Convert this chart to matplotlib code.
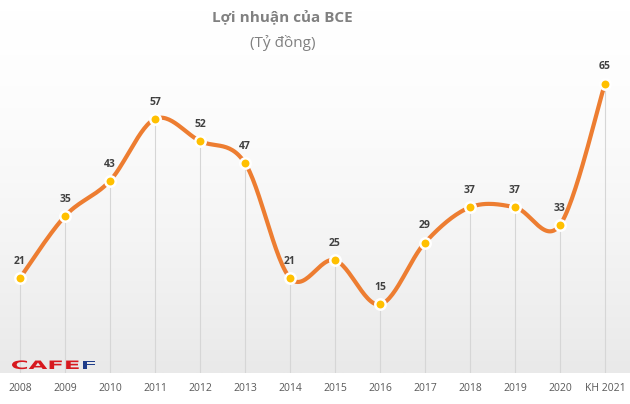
import numpy as np
import matplotlib
matplotlib.use('Agg')
import matplotlib.pyplot as plt
from matplotlib.textpath import TextPath
from matplotlib.patches import PathPatch
from matplotlib.font_manager import FontProperties
import matplotlib.transforms as mtransforms

years = ['2008', '2009', '2010', '2011', '2012', '2013', '2014',
         '2015', '2016', '2017', '2018', '2019', '2020', 'KH 2021']
profit = [21, 35, 43, 57, 52, 47, 21, 25, 15, 29, 37, 37, 33, 65]

title = 'Lợi nhuận của BCE'
subtitle = '(Tỷ đồng)'

plt.rcParams['font.family'] = ['Open Sans', 'DejaVu Sans']

W, H = 630, 404
fig = plt.figure(figsize=(W / 100, H / 100), dpi=100)
fig.patch.set_facecolor('white')

# plot area in pixels: index 0 at x=20, 45px per step; zero at y=370.7, 4.417px/unit
x0, dx = 20.0, 45.0
y_zero, dy = 370.7, 4.417
ax_bottom_px = 373
ax = fig.add_axes([0, (H - ax_bottom_px) / H, 1, ax_bottom_px / H])
xlim = (-x0 / dx, (W - x0) / dx)
ylim = ((y_zero - ax_bottom_px) / dy, y_zero / dy)
for s in ax.spines.values():
    s.set_visible(False)

# background gradient, white at top -> light grey at bottom
grad = (np.linspace(0, 1, 256) ** 1.6)[:, None]
cmap = matplotlib.colors.LinearSegmentedColormap.from_list('bg', ['#ffffff', '#e9e9e9'])
ax.imshow(grad, aspect='auto', cmap=cmap, extent=[xlim[0], xlim[1], ylim[0], ylim[1]],
          origin='upper', zorder=0)
ax.set_xlim(*xlim)
ax.set_ylim(*ylim)

xs = np.arange(len(profit))
ys = np.array(profit, dtype=float)

# drop lines
ax.vlines(xs, ylim[0], ys, color='#d6d6d6', lw=0.8, zorder=1)

# smoothed line (bezier through points, Excel-like)
pts = np.column_stack([xs, ys])
curve = []
t = np.linspace(0, 1, 30)
for i in range(len(pts) - 1):
    p0 = pts[i - 1] if i > 0 else pts[i]
    p1 = pts[i]
    p2 = pts[i + 1]
    p3 = pts[i + 2] if i + 2 < len(pts) else pts[i + 1]
    c1 = p1 + (p2 - p0) / 6
    c2 = p2 - (p3 - p1) / 6
    seg = ((1 - t) ** 3)[:, None] * p1 + (3 * (1 - t) ** 2 * t)[:, None] * c1 \
        + (3 * (1 - t) * t ** 2)[:, None] * c2 + (t ** 3)[:, None] * p2
    curve.append(seg)
curve = np.vstack(curve)
ax.plot(curve[:, 0], curve[:, 1], color='#ed7d31', lw=3.0, solid_capstyle='round', zorder=2)

ax.plot(xs, ys, 'o', ms=7.5, mfc='#ffc000', mec='white', mew=1.8, zorder=3)

for x, y in zip(xs, ys):
    ax.annotate(str(int(y)), (x, y), xytext=(0, 8), textcoords='offset points',
                ha='center', va='bottom', fontsize=7.5, fontweight='bold', color='#404040')

ax.set_xticks(xs)
ax.set_xticklabels(years, fontsize=7.5, color='#595959')
ax.tick_params(axis='x', length=0, pad=7)
ax.set_yticks([])

fig.text(282 / W, 1 - 17 / H, title, ha='center', va='center', fontsize=11,
         fontweight='bold', color='#808080')
fig.text(283 / W, 1 - 43 / H, subtitle, ha='center', va='center', fontsize=11,
         color='#808080')

# CAFEF logo (stretched bold letters)
fp = FontProperties(family='DejaVu Sans', weight='bold')
tp1 = TextPath((0, 0), 'CAFE', prop=fp, size=11.6)
tp_all = TextPath((0, 0), 'CAFEF', prop=fp, size=11.6)
ext = tp_all.get_extents()
sx = 83.0 / ext.width
tr = mtransforms.Affine2D().translate(-ext.x0, 0).scale(sx, 1.0).translate(12, H - 369)
tp2 = TextPath((tp1.get_extents().x1 + (ext.x1 - tp1.get_extents().x1)
                - TextPath((0, 0), 'F', prop=fp, size=11.6).get_extents().x1, 0),
               'F', prop=fp, size=11.6)
fig.patches.append(PathPatch(tp1, color='#d7191f', lw=0, transform=tr, figure=fig))
fig.patches.append(PathPatch(tp2, color='#1f3d8a', lw=0, transform=tr, figure=fig))

fig.savefig('out.png', dpi=100, facecolor='white')
